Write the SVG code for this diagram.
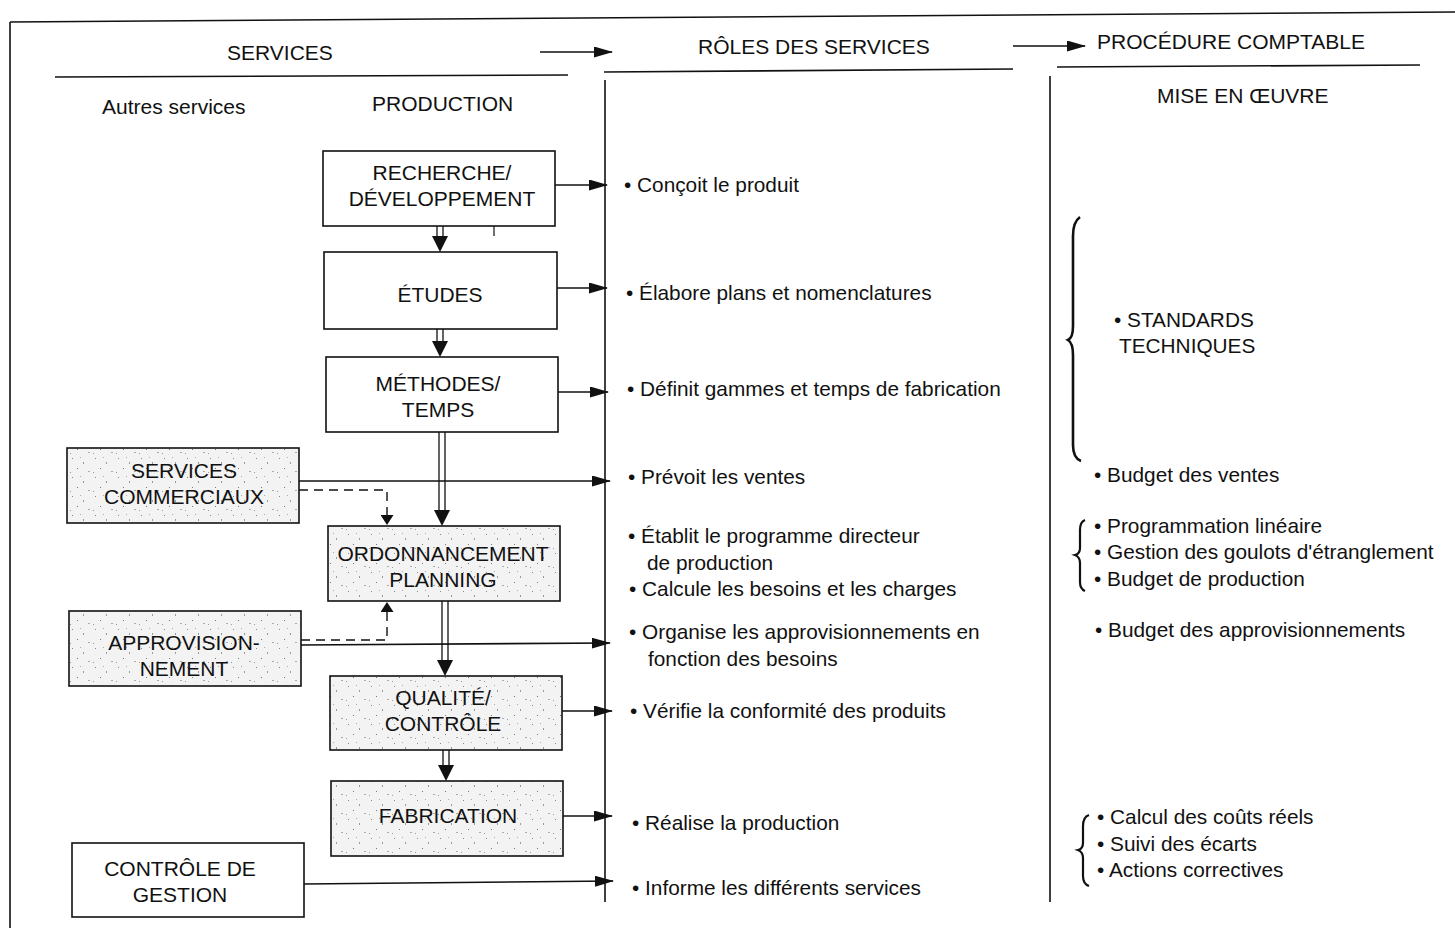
<svg xmlns="http://www.w3.org/2000/svg" width="1455" height="928" viewBox="0 0 1455 928">
<style>
text{font-family:"Liberation Sans",Arial,sans-serif;fill:#111}
.h{font-size:21px}
.b{font-size:21px;text-anchor:middle}
.t{font-size:20.8px}
.box{fill:#fff;stroke:#111;stroke-width:1.6}
.sh{fill:url(#speck);stroke:#111;stroke-width:1.6}
.ln{stroke:#111;stroke-width:1.6;fill:none}
.ds{stroke:#111;stroke-width:1.4;fill:none;stroke-dasharray:9 6}
.dbl{stroke:#111;stroke-width:1.3;fill:none}
.br{stroke:#111;stroke-width:2.6;fill:none}
</style>
<defs>
<marker id="ah" markerWidth="19" markerHeight="11" refX="18" refY="5.5" orient="auto" markerUnits="userSpaceOnUse">
<path d="M0,0 L19,5.5 L0,11 Z" fill="#111"/>
</marker>
<marker id="ahs" markerWidth="10" markerHeight="13" refX="9" refY="6.5" orient="auto" markerUnits="userSpaceOnUse">
<path d="M0,0 L10,6.5 L0,13 Z" fill="#111"/>
</marker>
<pattern id="speck" width="23" height="19" patternUnits="userSpaceOnUse">
<rect width="23" height="19" fill="#f3f3f3"/>
<rect x="3" y="2" width="1" height="1" fill="#888"/>
<rect x="14" y="6" width="1" height="2" fill="#999"/>
<rect x="8" y="12" width="1" height="1" fill="#777"/>
<rect x="19" y="15" width="2" height="1" fill="#aaa"/>
<rect x="1" y="16" width="1" height="1" fill="#999"/>
<rect x="11" y="1" width="1" height="1" fill="#aaa"/>
</pattern>
<g id="dhead"><path d="M-8,-16 L8,-16 L0,0 Z" fill="#111"/></g>
</defs>

<!-- frame -->
<g id="frame">
<path class="ln" d="M10,22 L1455,12"/>
<path class="ln" d="M10,22 L10,928"/>
<path class="ln" d="M55,77 L568,75"/>
<path class="ln" d="M604,72 L1013,69"/>
<path class="ln" d="M1057,67 L1420,65"/>
<path class="ln" d="M605,80 L605,902"/>
<path class="ln" d="M1050,76 L1050,902"/>
</g>

<!-- headers -->
<g id="headers">
<text class="h" x="227" y="60">SERVICES</text>
<path class="ln" d="M540,52 L612,52" marker-end="url(#ah)"/>
<text class="h" x="698" y="54">RÔLES DES SERVICES</text>
<path class="ln" d="M1013,46 L1085,46" marker-end="url(#ah)"/>
<text class="h" x="1097" y="49">PROCÉDURE COMPTABLE</text>
<text class="h" x="102" y="114">Autres services</text>
<text class="h" x="372" y="111">PRODUCTION</text>
<text class="h" x="1157" y="103">MISE EN ŒUVRE</text>
</g>

<!-- connectors -->
<g id="connectors">
<path class="dbl" d="M437,226 V238 M443,226 V238"/>
<use href="#dhead" x="440" y="252"/>
<path class="dbl" d="M437,329 V343 M443,329 V343"/>
<use href="#dhead" x="440" y="357"/>
<path class="dbl" d="M439,432 V512 M445,432 V512"/>
<use href="#dhead" x="442" y="526"/>
<path class="dbl" d="M442,601 V662 M448,601 V662"/>
<use href="#dhead" x="445" y="676"/>
<path class="dbl" d="M443,750 V767 M449,750 V767"/>
<use href="#dhead" x="446" y="781"/>
<path class="ln" d="M494,226 V236" style="stroke-width:1.2"/>
<path class="ln" d="M555,185 L607,185" marker-end="url(#ah)"/>
<path class="ln" d="M557,288 L607,288" marker-end="url(#ah)"/>
<path class="ln" d="M558,392 L608,392" marker-end="url(#ah)"/>
<path class="ln" d="M299,481 L610,481" marker-end="url(#ah)"/>
<path class="ln" d="M301,645 L610,643" marker-end="url(#ah)"/>
<path class="ln" d="M562,711 L612,711" marker-end="url(#ah)"/>
<path class="ln" d="M563,816 L612,816" marker-end="url(#ah)"/>
<path class="ln" d="M304,884 L613,881" marker-end="url(#ah)"/>
<path class="ds" d="M299,490 H387 V524" marker-end="url(#ahs)"/>
<path class="ds" d="M301,640 H387 V603" marker-end="url(#ahs)"/>
</g>

<!-- nodes -->
<g id="n-rd">
<rect class="box" x="323" y="151" width="232" height="75"/>
<text class="b" x="442" y="180">RECHERCHE/</text>
<text class="b" x="442" y="206">DÉVELOPPEMENT</text>
</g>
<g id="n-etudes">
<rect class="box" x="324" y="252" width="233" height="77"/>
<text class="b" x="440" y="302">ÉTUDES</text>
</g>
<g id="n-methodes">
<rect class="box" x="326" y="357" width="232" height="75"/>
<text class="b" x="438" y="391">MÉTHODES/</text>
<text class="b" x="438" y="417">TEMPS</text>
</g>
<g id="n-commerciaux">
<rect class="sh" x="67" y="448" width="232" height="75"/>
<text class="b" x="184" y="478">SERVICES</text>
<text class="b" x="184" y="504">COMMERCIAUX</text>
</g>
<g id="n-ordo">
<rect class="sh" x="328" y="526" width="232" height="75"/>
<text class="b" x="443" y="561">ORDONNANCEMENT</text>
<text class="b" x="443" y="587">PLANNING</text>
</g>
<g id="n-appro">
<rect class="sh" x="69" y="611" width="232" height="75"/>
<text class="b" x="184" y="650">APPROVISION-</text>
<text class="b" x="184" y="676">NEMENT</text>
</g>
<g id="n-qualite">
<rect class="sh" x="330" y="676" width="232" height="74"/>
<text class="b" x="443" y="705">QUALITÉ/</text>
<text class="b" x="443" y="731">CONTRÔLE</text>
</g>
<g id="n-fabrication">
<rect class="sh" x="331" y="781" width="232" height="75"/>
<text class="b" x="448" y="823">FABRICATION</text>
</g>
<g id="n-cdg">
<rect class="box" x="72" y="843" width="232" height="74"/>
<text class="b" x="180" y="876">CONTRÔLE DE</text>
<text class="b" x="180" y="902">GESTION</text>
</g>

<!-- roles -->
<g id="roles">
<text class="t" x="624" y="192">• Conçoit le produit</text>
<text class="t" x="626" y="300">• Élabore plans et nomenclatures</text>
<text class="t" x="627" y="396">• Définit gammes et temps de fabrication</text>
<text class="t" x="628" y="484">• Prévoit les ventes</text>
<text class="t" x="628" y="543">• Établit le programme directeur</text>
<text class="t" x="647" y="570">de production</text>
<text class="t" x="629" y="596">• Calcule les besoins et les charges</text>
<text class="t" x="629" y="639">• Organise les approvisionnements en</text>
<text class="t" x="648" y="666">fonction des besoins</text>
<text class="t" x="630" y="718">• Vérifie la conformité des produits</text>
<text class="t" x="632" y="830">• Réalise la production</text>
<text class="t" x="632" y="895">• Informe les différents services</text>
</g>

<!-- procedure -->
<g id="procedure">
<path class="br" d="M1080,217 Q1073,222 1073,236 L1073,326 Q1073,338 1068,340 Q1073,343 1073,355 L1073,445 Q1073,458 1081,461"/>
<text class="t" x="1114" y="327">• STANDARDS</text>
<text class="t" x="1119" y="353">TECHNIQUES</text>
<text class="t" x="1094" y="482">• Budget des ventes</text>
<path class="br" d="M1085,520 Q1080,522 1080,530 L1080,548 Q1080,554 1075,555 Q1080,557 1080,563 L1080,582 Q1080,589 1085,591" style="stroke-width:2.2"/>
<text class="t" x="1094" y="533">• Programmation linéaire</text>
<text class="t" x="1094" y="559">• Gestion des goulots d'étranglement</text>
<text class="t" x="1094" y="586">• Budget de production</text>
<text class="t" x="1095" y="637">• Budget des approvisionnements</text>
<path class="br" d="M1089,815 Q1083,817 1083,826 L1083,843 Q1083,849 1078,850 Q1083,852 1083,858 L1083,876 Q1083,884 1089,886" style="stroke-width:2.2"/>
<text class="t" x="1097" y="824">• Calcul des coûts réels</text>
<text class="t" x="1097" y="851">• Suivi des écarts</text>
<text class="t" x="1097" y="877">• Actions correctives</text>
</g>
</svg>
